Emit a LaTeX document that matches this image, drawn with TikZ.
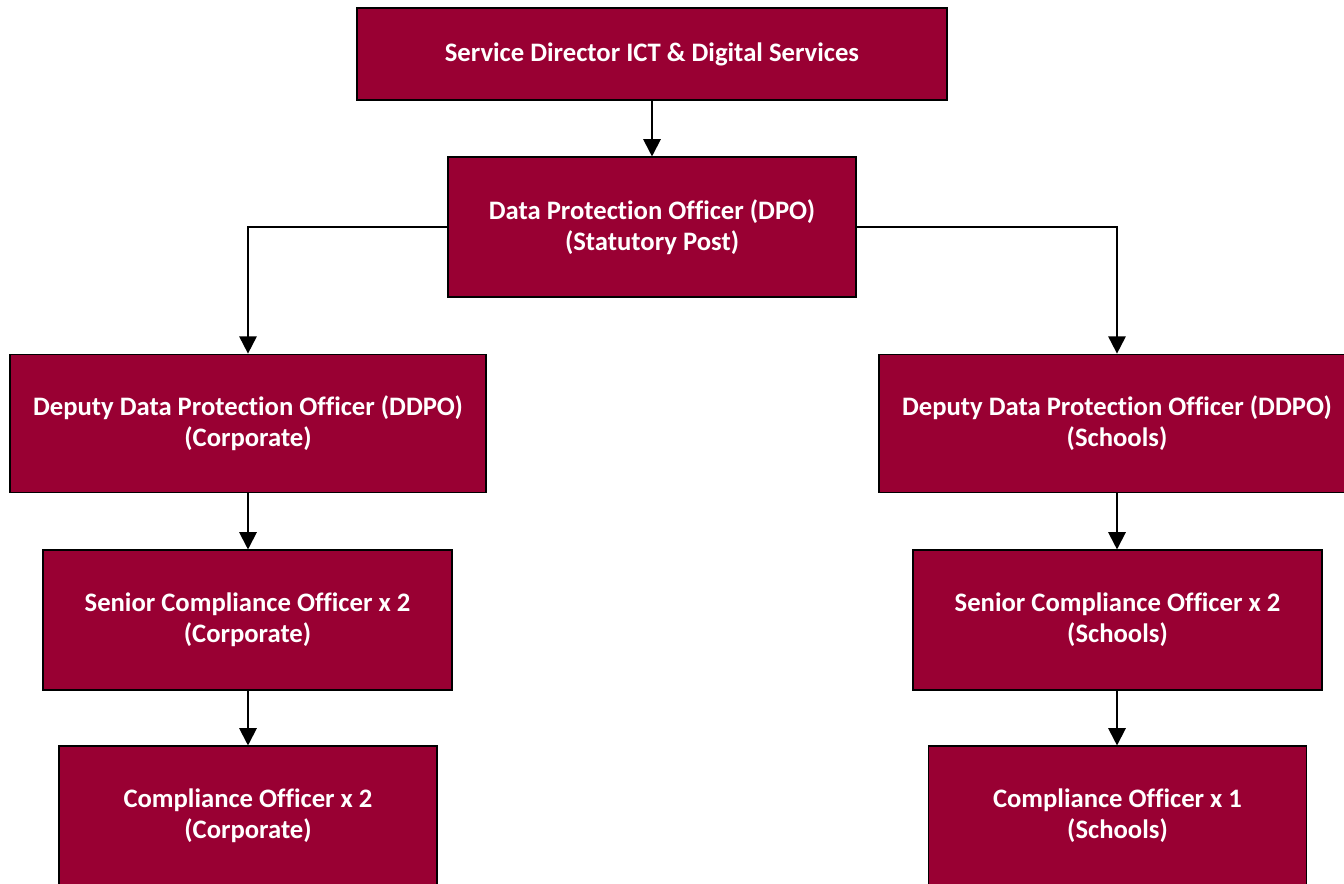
\documentclass[tikz,border=0pt]{standalone}
\usepackage{fontspec}
\setmainfont{Carlito}[Ligatures={NoCommon}]
\usetikzlibrary{arrows.meta}
\definecolor{postred}{HTML}{990033}
\begin{document}
\begin{tikzpicture}[x=0.75pt,y=-0.75pt,>={Triangle[width=13pt,length=13pt]},line width=1.5pt,
	post/.style={draw=black,line width=0.8pt,fill=postred,text=white,align=center,
		font=\fontsize{20}{23.25}\selectfont\bfseries,inner sep=0pt}]
	\useasboundingbox (0,0) rectangle (1344,884);
	\clip (0,0) rectangle (1344,884);
	% top of the chart
	\node[post,minimum width=442.5pt,minimum height=69pt] (sd) at (652,54) {Service Director ICT \& Digital Services};
	\node[post,minimum width=306pt,minimum height=105pt] (dpo) at (652,227) {Data Protection Officer (DPO)\\(Statutory Post)};
	% corporate side
	\node[post,minimum width=357pt,minimum height=104pt] (ddpoc) at (248,423.5) {Deputy Data Protection Officer (DDPO)\\(Corporate)};
	\node[post,minimum width=306.75pt,minimum height=105pt] (scoc) at (247.5,620) {Senior Compliance Officer x 2\\(Corporate)};
	\node[post,minimum width=283.5pt,minimum height=105pt] (coc) at (248,816) {Compliance Officer x 2\\(Corporate)};
	% schools side
	\node[post,minimum width=357pt,minimum height=104pt] (ddpos) at (1117,423.5) {Deputy Data Protection Officer (DDPO)\\(Schools)};
	\node[post,minimum width=306.75pt,minimum height=105pt] (scos) at (1117.5,620) {Senior Compliance Officer x 2\\(Schools)};
	\node[post,minimum width=283.5pt,minimum height=105pt] (cos) at (1117.5,816) {Compliance Officer x 1\\(Schools)};
	% reporting lines
	\draw[->] (sd.south) -- (dpo.north);
	\draw[->] (dpo.west) -| (ddpoc.north);
	\draw[->] (dpo.east) -| (ddpos.north);
	\draw[->] (ddpoc.south) -- (ddpoc.south|-scoc.north);
	\draw[->] (scoc.south-|ddpoc.south) -- (ddpoc.south|-coc.north);
	\draw[->] (ddpos.south) -- (ddpos.south|-scos.north);
	\draw[->] (scos.south-|ddpos.south) -- (ddpos.south|-cos.north);
\end{tikzpicture}
\end{document}
